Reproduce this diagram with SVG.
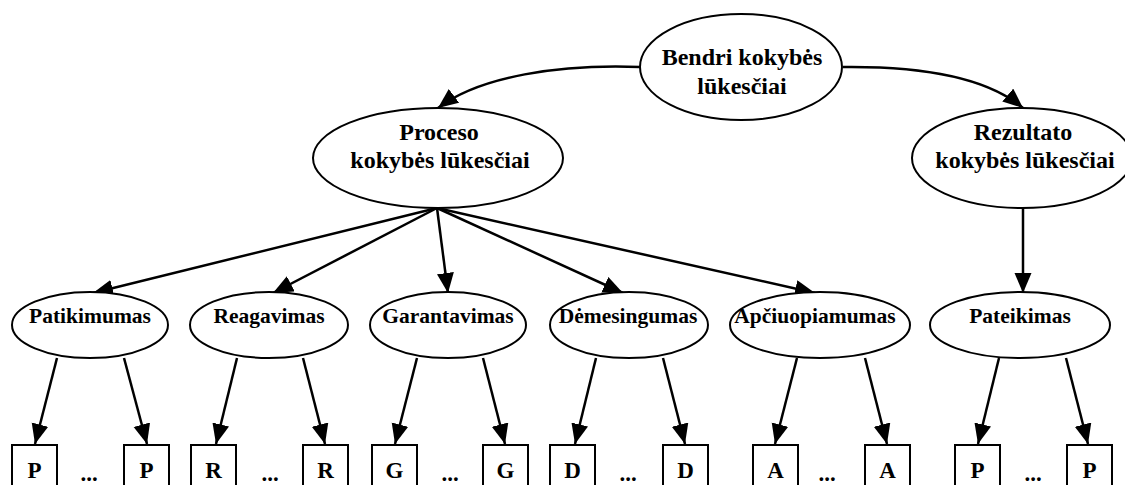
<svg xmlns="http://www.w3.org/2000/svg" width="1125" height="485" viewBox="0 0 1125 485">
  <style>
    .node ellipse, .node rect { fill: #fff; stroke: #000; stroke-width: 2; }
    text { font-family: "Liberation Serif", "Times New Roman", serif; font-weight: bold; fill: #000; text-anchor: middle; }
    .big { font-size: 24px; }
    .mid { font-size: 21.5px; }
    .small { font-size: 23px; }
    .edges path, .edges line { stroke: #000; stroke-width: 2.5; fill: none; marker-end: url(#arrow); }
  </style>
  <defs>
    <marker id="arrow" markerUnits="userSpaceOnUse" markerWidth="22" markerHeight="18" refX="20" refY="8.5" orient="auto" viewBox="0 0 22 18">
      <path d="M0,0 L20,8.5 L0,17 Z" fill="#000"/>
    </marker>
  </defs>

  <rect width="1125" height="485" fill="#fff"/>

  <!-- connectors -->
  <g class="edges">
    <path d="M640,67 C560,64 480,76 438,108"/>
    <path d="M843,67 C930,66 990,80 1023,108"/>
    <line x1="437" y1="208" x2="93" y2="293"/>
    <line x1="437" y1="208" x2="273" y2="293"/>
    <line x1="437" y1="208" x2="448" y2="293"/>
    <line x1="437" y1="208" x2="623" y2="293"/>
    <line x1="437" y1="208" x2="815" y2="293"/>
    <line x1="1023" y1="207" x2="1023" y2="293"/>
    <line x1="57" y1="358" x2="35" y2="444"/>
    <line x1="124" y1="358" x2="147" y2="444"/>
    <line x1="237" y1="358" x2="216" y2="444"/>
    <line x1="303" y1="358" x2="325" y2="444"/>
    <line x1="417" y1="358" x2="395" y2="444"/>
    <line x1="483" y1="358" x2="505" y2="444"/>
    <line x1="596" y1="358" x2="575" y2="444"/>
    <line x1="663" y1="358" x2="685" y2="444"/>
    <line x1="797" y1="358" x2="775" y2="444"/>
    <line x1="865" y1="358" x2="887" y2="444"/>
    <line x1="999" y1="358" x2="978" y2="444"/>
    <line x1="1066" y1="358" x2="1088" y2="444"/>
  </g>

  <!-- top level -->
  <g id="bendri" class="node">
    <ellipse cx="741" cy="67" rx="101" ry="53"/>
    <text class="big" x="742" y="65">Bendri kokybės</text>
    <text class="big" x="742" y="94">lūkesčiai</text>
  </g>

  <g id="proceso" class="node">
    <ellipse cx="438" cy="158" rx="125" ry="50"/>
    <text class="big" x="439" y="140">Proceso</text>
    <text class="big" x="440" y="168">kokybės lūkesčiai</text>
  </g>

  <g id="rezultato" class="node">
    <ellipse cx="1022" cy="158" rx="110" ry="50"/>
    <text class="big" x="1023" y="140">Rezultato</text>
    <text class="big" x="1025" y="168">kokybės lūkesčiai</text>
  </g>

  <!-- dimensions -->
  <g id="patikimumas" class="node">
    <ellipse cx="90" cy="325" rx="78" ry="33"/>
    <text class="mid" x="90" y="323">Patikimumas</text>
  </g>
  <g id="reagavimas" class="node">
    <ellipse cx="269" cy="325" rx="79" ry="33"/>
    <text class="mid" x="269" y="323">Reagavimas</text>
  </g>
  <g id="garantavimas" class="node">
    <ellipse cx="448" cy="325" rx="78" ry="33"/>
    <text class="mid" x="448" y="323">Garantavimas</text>
  </g>
  <g id="demesingumas" class="node">
    <ellipse cx="629" cy="325" rx="79" ry="33"/>
    <text class="mid" x="628" y="323">Dėmesingumas</text>
  </g>
  <g id="apciuopiamumas" class="node">
    <ellipse cx="820" cy="325" rx="90" ry="33"/>
    <text class="mid" x="815" y="323">Apčiuopiamumas</text>
  </g>
  <g id="pateikimas" class="node">
    <ellipse cx="1020" cy="325" rx="90" ry="33"/>
    <text class="mid" x="1020" y="323">Pateikimas</text>
  </g>

  <!-- items -->
  <g id="p1" class="node"><rect x="12" y="445" width="45" height="50"/><text class="small" x="34.5" y="478">P</text></g>
  <g id="p2" class="node"><rect x="124" y="445" width="45" height="50"/><text class="small" x="146.5" y="478">P</text></g>
  <g id="r1" class="node"><rect x="191" y="445" width="45" height="50"/><text class="small" x="213.5" y="478">R</text></g>
  <g id="r2" class="node"><rect x="303" y="445" width="45" height="50"/><text class="small" x="325.5" y="478">R</text></g>
  <g id="g1" class="node"><rect x="372" y="445" width="45" height="50"/><text class="small" x="394.5" y="478">G</text></g>
  <g id="g2" class="node"><rect x="483" y="445" width="45" height="50"/><text class="small" x="505.5" y="478">G</text></g>
  <g id="d1" class="node"><rect x="550" y="445" width="45" height="50"/><text class="small" x="572.5" y="478">D</text></g>
  <g id="d2" class="node"><rect x="663" y="445" width="45" height="50"/><text class="small" x="685.5" y="478">D</text></g>
  <g id="a1" class="node"><rect x="753" y="445" width="45" height="50"/><text class="small" x="775.5" y="478">A</text></g>
  <g id="a2" class="node"><rect x="865" y="445" width="45" height="50"/><text class="small" x="887.5" y="478">A</text></g>
  <g id="p3" class="node"><rect x="955" y="445" width="45" height="50"/><text class="small" x="977.5" y="478">P</text></g>
  <g id="p4" class="node"><rect x="1067" y="445" width="45" height="50"/><text class="small" x="1089.5" y="478">P</text></g>

  <!-- ellipsis marks between item pairs -->
  <g id="dots">
    <text class="small" x="89" y="481">...</text>
    <text class="small" x="270" y="481">...</text>
    <text class="small" x="450" y="481">...</text>
    <text class="small" x="628" y="481">...</text>
    <text class="small" x="827" y="481">...</text>
    <text class="small" x="1033" y="481">...</text>
  </g>
</svg>
